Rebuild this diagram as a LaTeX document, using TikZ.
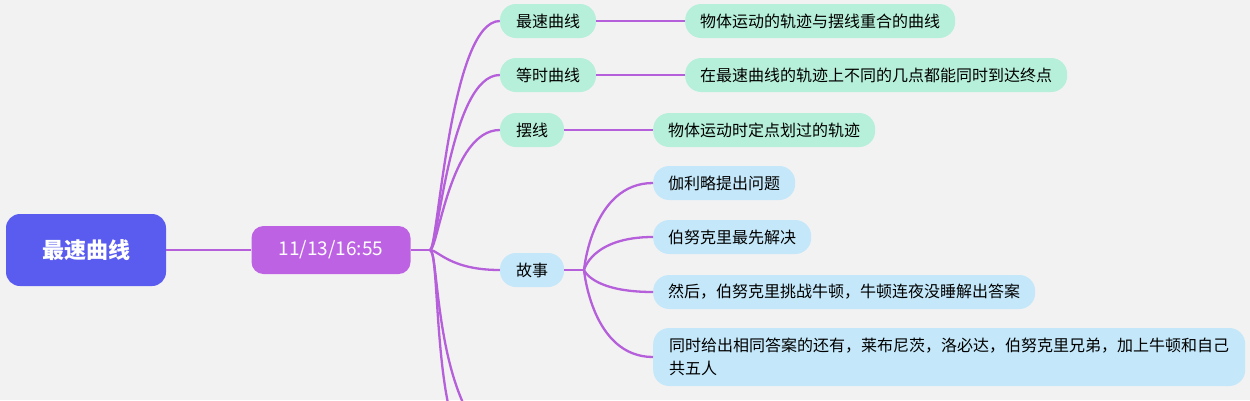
\documentclass[tikz,border=0pt]{standalone}
\usepackage{fontspec}
\setmainfont{Noto Sans CJK SC}
\usetikzlibrary{positioning,calc}
\definecolor{bgcol}{HTML}{F2F2F2}
\definecolor{rootcol}{HTML}{5A5CF0}
\definecolor{datecol}{HTML}{BE62E4}
\definecolor{mintcol}{HTML}{B6F0DA}
\definecolor{skycol}{HTML}{C4E8FA}
\definecolor{linkcol}{HTML}{B55FDA}
\begin{document}
\begin{tikzpicture}[
    x=1pt,y=-1pt,
    root/.style={rounded corners=14pt,fill=rootcol,text=white,font=\fontsize{22}{24}\selectfont\bfseries,minimum width=160pt,minimum height=72pt},
    datebox/.style={rounded corners=12pt,fill=datecol,text=white,font=\fontsize{19}{22}\selectfont,minimum width=159pt,minimum height=48pt},
    topic/.style={rounded corners=16pt,fill=mintcol,font=\fontsize{16}{18}\selectfont,minimum height=34pt,inner xsep=15pt},
    story/.style={topic,fill=skycol},
    leaf/.style={topic,anchor=west},
    sleaf/.style={story,anchor=west},
    link/.style={draw=linkcol,line width=2.3pt}
  ]
  \fill[bgcol] (0,0) rectangle (1250,400);
  \clip (0,0) rectangle (1250,400);

  % main nodes
  \node[root] (main) at (86,250) {最速曲线};
  \node[datebox] (date) at (331,250) {11/13/16:55};
  \coordinate (hub) at (430,250);

  % topics
  \node[topic,minimum width=96pt] (fastest) at (548,21) {最速曲线};
  \node[topic,minimum width=96pt] (equal) at (548,75) {等时曲线};
  \node[topic,minimum width=64pt] (cycloid) at (532,130) {摆线};
  \node[story,minimum width=64pt] (tale) at (532,270) {故事};
  \coordinate (hubtale) at (584,270);
  \coordinate (lost1) at (452,420);
  \coordinate (lost2) at (472,420);

  % leaves
  \node[leaf] (fastestdef) at (685,21) {物体运动的轨迹与摆线重合的曲线};
  \node[leaf] (equaldef) at (685,75) {在最速曲线的轨迹上不同的几点都能同时到达终点};
  \node[leaf] (cycloiddef) at (653,130) {物体运动时定点划过的轨迹};
  \node[sleaf] (galileo) at (653,183) {伽利略提出问题};
  \node[sleaf] (bernoulli) at (653,237) {伯努克里最先解决};
  \node[sleaf] (newton) at (653,292) {然后，伯努克里挑战牛顿，牛顿连夜没睡解出答案};
  \node[sleaf,minimum width=592pt,minimum height=58pt,align=left] (five) at (653,357)
    {同时给出相同答案的还有，莱布尼茨，洛必达，伯努克里兄弟，加上牛顿和自己\\[5pt]共五人};

  % connectors
  \draw[link] (main.east) -- (date.west);
  \draw[link] (date.east) -- (hub);
  \foreach \t in {fastest,equal,cycloid,tale}
    \draw[link] (hub) .. controls +(8,0) and ($(hub |- \t.west)+(20,0)$) .. (\t.west);
  \foreach \t in {lost1,lost2}
    \draw[link] (hub) .. controls +(8,0) and ($(hub |- \t)+(5,-60)$) .. (\t);
  \draw[link] (fastest.east) -- (fastestdef.west);
  \draw[link] (equal.east) -- (equaldef.west);
  \draw[link] (cycloid.east) -- (cycloiddef.west);
  \draw[link] (tale.east) -- (hubtale);
  \foreach \t in {galileo,bernoulli,newton,five}
    \draw[link] (hubtale) .. controls +(0,0) and ($(hubtale |- \t.west)+(8,0)$) .. (\t.west);
\end{tikzpicture}
\end{document}
